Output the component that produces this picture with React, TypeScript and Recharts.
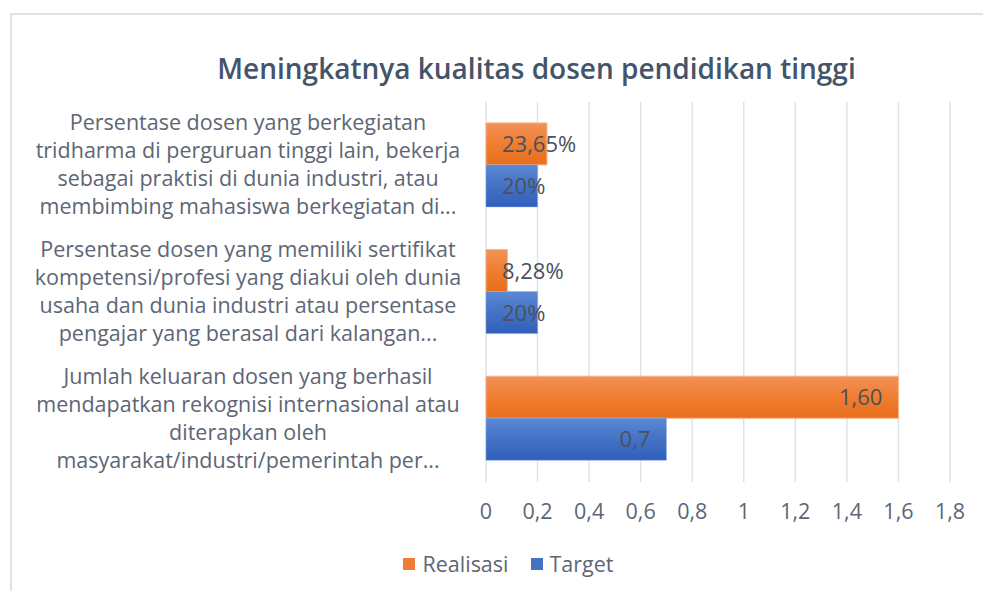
import React from 'react';
import { BarChart, Bar, XAxis, YAxis, CartesianGrid, Legend, LabelList } from 'recharts';

const categories = [
    'Persentase dosen yang berkegiatan|tridharma di perguruan tinggi lain, bekerja|sebagai praktisi di dunia industri, atau|membimbing mahasiswa berkegiatan di...',
    'Persentase dosen yang memiliki sertifikat|kompetensi/profesi yang diakui oleh dunia|usaha dan dunia industri atau persentase|pengajar yang berasal dari kalangan...',
    'Jumlah keluaran dosen yang berhasil|mendapatkan rekognisi internasional atau|diterapkan oleh|masyarakat/industri/pemerintah per...',
];
const realisasi = [0.2365, 0.0828, 1.6];
const target = [0.2, 0.2, 0.7];
const realisasiLabels = ['23,65%', '8,28%', '1,60'];
const targetLabels = ['20%', '20%', '0,7'];
const xTicks = [0, 0.2, 0.4, 0.6, 0.8, 1, 1.2, 1.4, 1.6, 1.8];

const FONT = '"Open Sans", "Noto Sans", sans-serif';
const TEXT = '#5d6675';

const data = categories.map((name, i) => ({
    name,
    realisasi: realisasi[i],
    target: target[i],
    rLabel: realisasiLabels[i],
    tLabel: targetLabels[i],
}));

const CategoryTick = ({ y, payload }: any) => {
    const lines = String(payload.value).split('|');
    return (
        <g>
            {lines.map((line, i) => (
                <text
                    key={i}
                    x={248}
                    y={y + (i - (lines.length - 1) / 2) * 28 + 7}
                    textAnchor="middle"
                    fontFamily={FONT}
                    fontSize={21.5}
                    fill={TEXT}
                >
                    {line}
                </text>
            ))}
        </g>
    );
};

const ValueTick = ({ x, y, payload }: any) => (
    <text x={x} y={y + 29} textAnchor="middle" fontFamily={FONT} fontSize={21.5} fill={TEXT}>
        {String(payload.value).replace('.', ',')}
    </text>
);

const BarValue = (props: any) => {
    const { x, y, width, height, value } = props;
    const long = width > 150;
    return (
        <text
            x={long ? x + width - 16 : x + 16}
            y={y + height / 2 + 8}
            textAnchor={long ? 'end' : 'start'}
            fontFamily={FONT}
            fontSize={22}
            fill="#4a515c"
        >
            {value}
        </text>
    );
};

const LegendContent = () => (
    <div style={{ display: 'flex', justifyContent: 'center', gap: 22, fontFamily: FONT, fontSize: 21.5, color: TEXT, paddingLeft: 34 }}>
        <span style={{ display: 'flex', alignItems: 'center' }}>
            <span style={{ width: 12, height: 12, background: '#ED7D31', marginRight: 7, display: 'inline-block' }} />
            Realisasi
        </span>
        <span style={{ display: 'flex', alignItems: 'center' }}>
            <span style={{ width: 12, height: 12, background: '#4472C4', marginRight: 7, display: 'inline-block' }} />
            Target
        </span>
    </div>
);

export default function App() {
    return (
        <div style={{ position: 'fixed', left: 0, top: 0, width: 983, height: 591, background: '#fff', overflow: 'hidden' }}>
            <div style={{ position: 'absolute', left: 10, top: 13, width: 1000, height: 600, borderTop: '2px solid #dde2ea', borderLeft: '2px solid #dde2ea' }} />
            <div style={{ position: 'absolute', left: 0, width: 983, top: 49, textAlign: 'center', paddingLeft: 90, boxSizing: 'border-box', fontFamily: FONT, fontWeight: 600, fontSize: 28, color: '#44546a' }}>
                Meningkatnya kualitas dosen pendidikan tinggi
            </div>
            <BarChart
                width={983}
                height={591}
                data={data}
                layout="vertical"
                barCategoryGap="16.5%"
                barGap={0}
                margin={{ top: 102, right: 33, left: 0, bottom: 59 }}
                style={{ position: 'absolute', left: 0, top: 0 }}
            >
                <defs>
                    <linearGradient id="gOrange" x1="0" y1="0" x2="0" y2="1">
                        <stop offset="0%" stopColor="#f29259" />
                        <stop offset="50%" stopColor="#f07d30" />
                        <stop offset="100%" stopColor="#e86e1c" />
                    </linearGradient>
                    <linearGradient id="gBlue" x1="0" y1="0" x2="0" y2="1">
                        <stop offset="0%" stopColor="#5b88d6" />
                        <stop offset="50%" stopColor="#4472c4" />
                        <stop offset="100%" stopColor="#2f5fbc" />
                    </linearGradient>
                </defs>
                <CartesianGrid horizontal={false} stroke="#dde2ea" strokeWidth={1.5} />
                <XAxis
                    type="number"
                    domain={[0, 1.8]}
                    ticks={xTicks}
                    axisLine={false}
                    tickLine={false}
                    tick={<ValueTick />}
                    height={50}
                    interval={0}
                />
                <YAxis
                    type="category"
                    dataKey="name"
                    width={486}
                    axisLine={false}
                    tickLine={false}
                    tick={<CategoryTick />}
                    interval={0}
                />
                <Legend verticalAlign="middle" align="center" layout="horizontal" content={<LegendContent />} wrapperStyle={{ top: 549, left: 0, width: 983 }} />
                <Bar dataKey="realisasi" name="Realisasi" fill="url(#gOrange)" stroke="#f6b58c" strokeWidth={1} isAnimationActive={false}>
                    <LabelList dataKey="rLabel" content={<BarValue />} />
                </Bar>
                <Bar dataKey="target" name="Target" fill="url(#gBlue)" stroke="#8aa7e0" strokeWidth={0.5} isAnimationActive={false}>
                    <LabelList dataKey="tLabel" content={<BarValue />} />
                </Bar>
            </BarChart>
        </div>
    );
}
